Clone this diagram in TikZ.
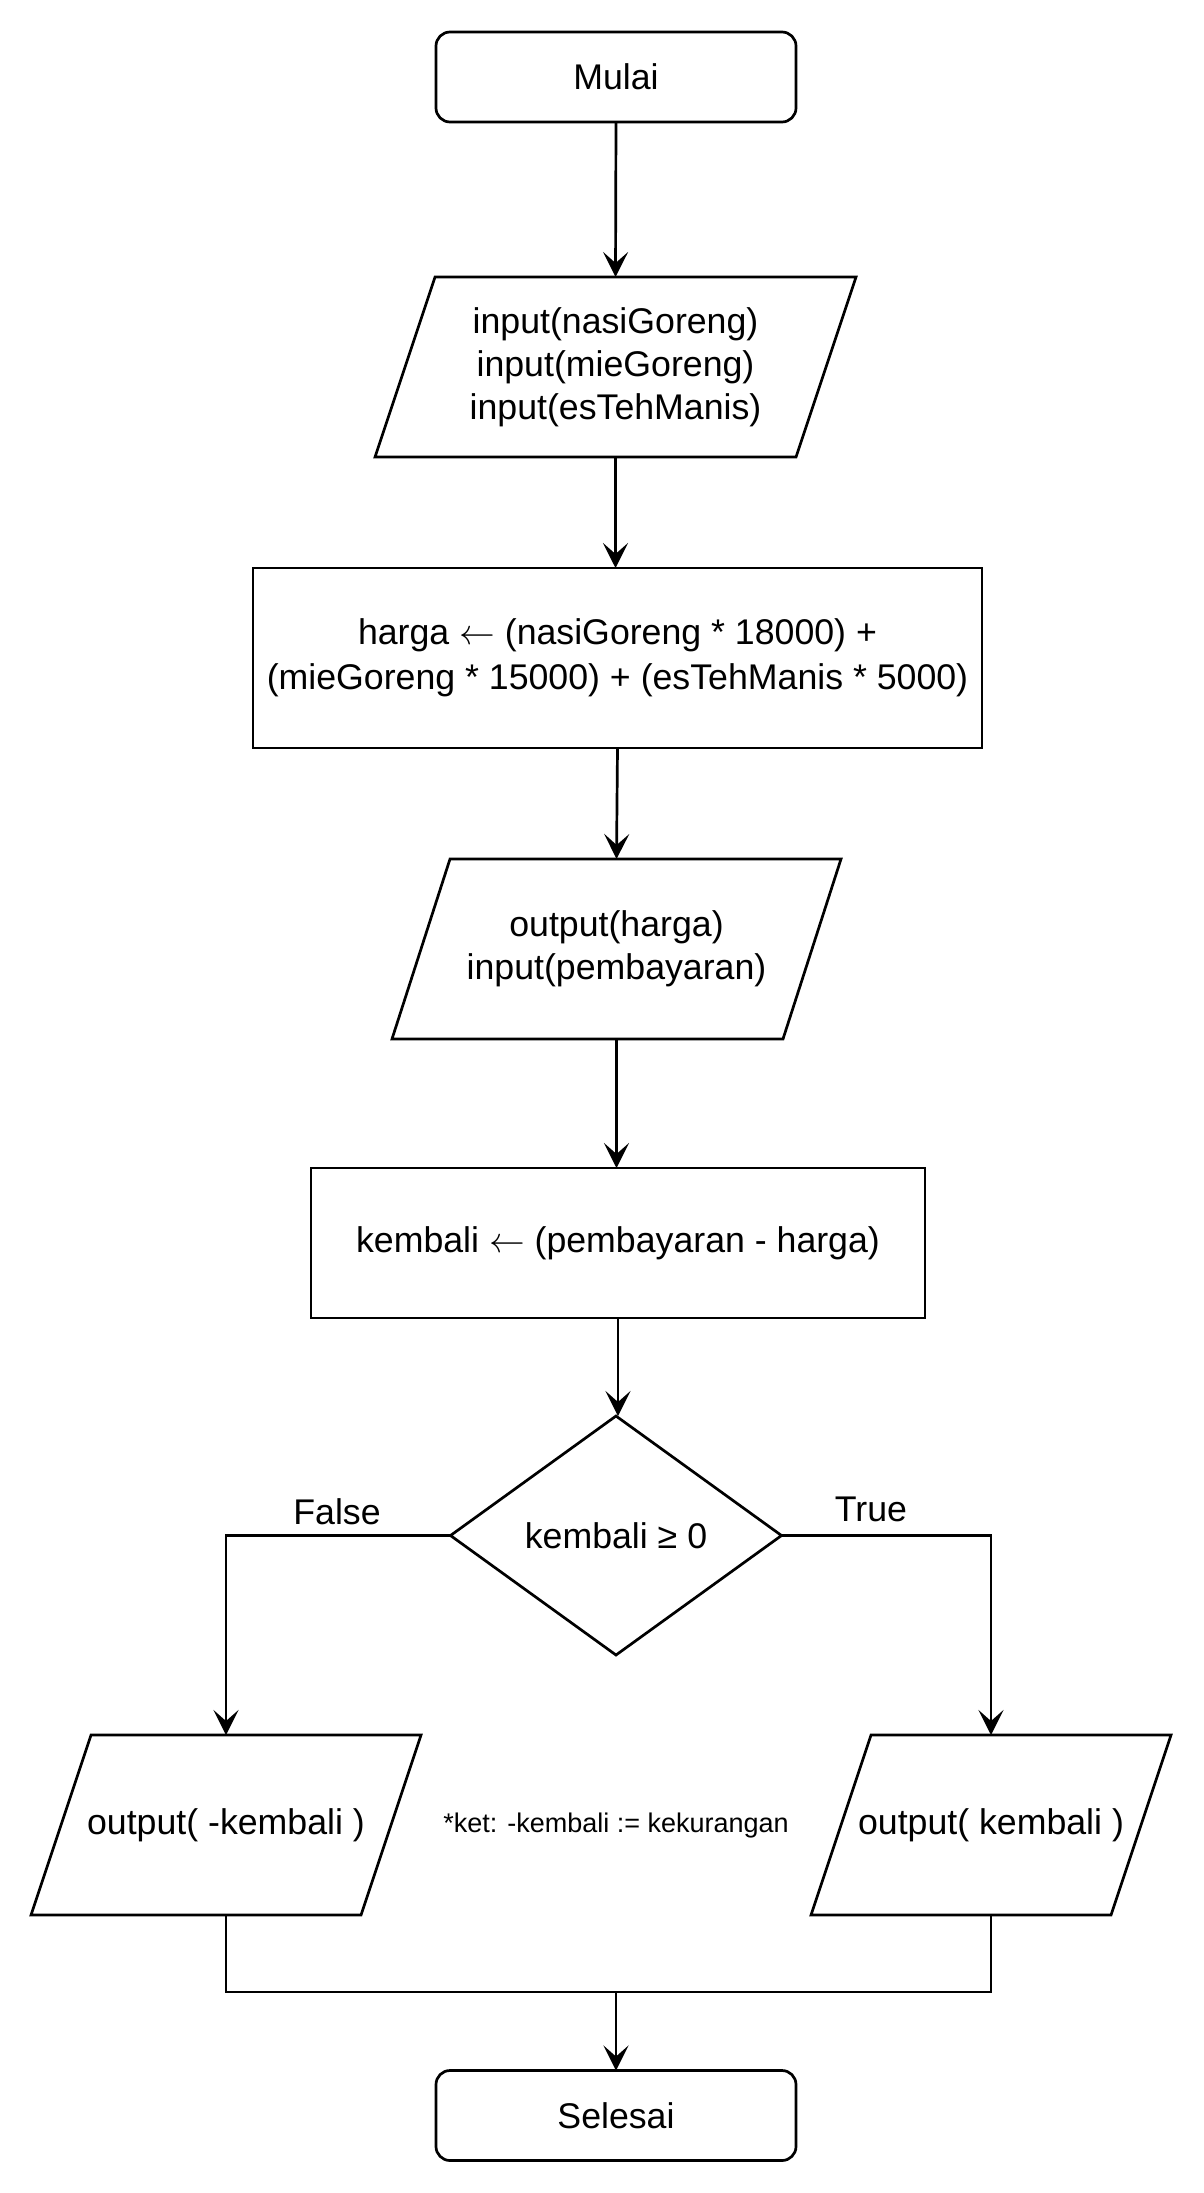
\documentclass[tikz,border=0pt]{standalone}
\usepackage{fontspec}
\setmainfont{Liberation Sans}
\DeclareFontShape{OMS}{cmsy}{m}{n}{<->cmsy10}{}
\DeclareFontShape{OML}{cmm}{m}{it}{<->cmmi10}{}
\usetikzlibrary{arrows.meta,shapes.geometric}
\tikzset{
  base/.style={font=\fontsize{35.7}{43}\selectfont, align=center, line width=2.7pt, inner sep=0pt, outer sep=0pt},
  term/.style={base, draw, rectangle, rounded corners=14pt, minimum width=360pt, minimum height=90pt},
  procbox/.style={base, draw, rectangle},
  iobox/.style={base, rectangle},
  decis/.style={base, draw, diamond, minimum width=331pt, minimum height=239pt},
  conn/.style={line width=2.7pt, -{Stealth[length=25pt,width=25pt,inset=11pt]}},
  plainline/.style={line width=2.7pt},
  lbl/.style={font=\fontsize{35.7}{43}\selectfont, inner sep=0pt},
  note/.style={font=\fontsize{27}{32}\selectfont, inner sep=0pt}
}
\newcommand\drawpara[2]{\draw[plainline] ([xshift=#2]#1.north west) -- (#1.north east) -- ([xshift=-#2]#1.south east) -- (#1.south west) -- cycle;}
\newcommand\larr{\(\leftarrow\)}
\begin{document}
\begin{tikzpicture}[x=1pt,y=-1pt]
\useasboundingbox[fill=white] (0,0) rectangle (1203,2193);

\node[term] (start) at (616,77) {Mulai};
\node[iobox, minimum width=481pt, minimum height=180pt] (in1) at (615.5,367) {input(nasiGoreng)\\input(mieGoreng)\\input(esTehManis)};
\drawpara{in1}{60pt}
\node[procbox, minimum width=729pt, minimum height=180pt, font=\fontsize{35.7}{45}\selectfont] (harga) at (617.5,658) {harga \larr{} (nasiGoreng * 18000) +\\(mieGoreng * 15000) + (esTehManis * 5000)};
\node[iobox, minimum width=449pt, minimum height=180pt] (out1) at (616.5,949) {output(harga)\\input(pembayaran)};
\drawpara{out1}{58pt}
\node[procbox, minimum width=614pt, minimum height=150pt] (kemb) at (618,1243) {kembali \larr{} (pembayaran - harga)};
\node[decis] (dec) at (616,1535.5) {kembali ≥ 0};
\node[iobox, minimum width=390pt, minimum height=180pt] (outL) at (226,1825) {output( -kembali )};
\drawpara{outL}{60pt}
\node[iobox, minimum width=360pt, minimum height=180pt] (outR) at (991,1825) {output( kembali )};
\drawpara{outR}{60pt}
\node[note] (ket) at (616,1825) {*ket: -kembali := kekurangan};
\node[term] (stop) at (616,2115.5) {Selesai};
\coordinate (merge) at (616,1992);

\node[lbl] (fl) at (337,1512) {False};
\node[lbl] (tl) at (871,1509) {True};

\draw[conn] (start.south) -- (in1.north);
\draw[conn] (in1.south) -- (in1.south |- harga.north);
\draw[conn] (harga.south) -- (out1.north);
\draw[conn] (out1.south) -- (kemb.north -| out1.south);
\draw[conn] (kemb.south) -- (kemb.south |- dec.north);
\draw[conn] (dec.west) -| (outL.north);
\draw[conn] (dec.east) -| (outR.north);
\draw[plainline] (outL.south) |- (merge);
\draw[plainline] (outR.south) |- (merge);
\draw[conn] (merge) -- (stop.north);
\end{tikzpicture}
\end{document}
